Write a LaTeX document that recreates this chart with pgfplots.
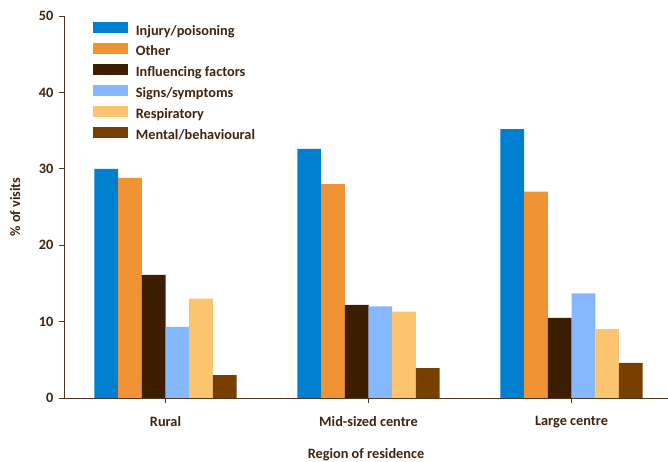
\documentclass[border=0pt]{standalone}
\usepackage{fontspec}
\setmainfont{Carlito}[BoldFont={Carlito Bold}]
\usepackage{pgfplots}
\pgfplotsset{compat=1.18}
\definecolor{cA}{HTML}{007FD1}
\definecolor{cB}{HTML}{EF9233}
\definecolor{cC}{HTML}{3E1E00}
\definecolor{cD}{HTML}{85B8FF}
\definecolor{cE}{HTML}{FDC46F}
\definecolor{cF}{HTML}{773F00}
\definecolor{txt}{HTML}{3F2510}
\definecolor{axc}{HTML}{4B3621}
\begin{document}
\begin{tikzpicture}
\path[use as bounding box] (-64pt,-64pt) rectangle (604pt,398pt);
\begin{axis}[
  scale only axis,
  width=604pt, height=382pt,
  ybar=0pt, bar width=23.7pt,
  ymin=0, ymax=50, ytick={0,10,...,50},
  xmin=-0.5, xmax=2.475,
  xtick={0,1,2},
  xticklabels={Rural,Mid-sized centre,Large centre},
  axis x line*=bottom, axis y line*=left,
  axis line style={axc, line width=0.9pt, -},
  tick style={axc, line width=0.9pt},
  tick align=outside,
  major tick length=5pt,
  /pgf/number format/assume math mode=true,
  tick label style={font=\fontsize{14.3}{16}\selectfont\bfseries, text=txt},
  xticklabel style={yshift=-9.5pt},
  yticklabel style={xshift=-2pt},
  xlabel={Region of residence},
  ylabel={\% of visits},
  label style={font=\fontsize{14.3}{16}\selectfont\bfseries, text=txt},
  xlabel style={at={(axis description cs:0.5,0)}, anchor=center, yshift=-56.5pt},
  ylabel style={at={(axis description cs:-0.081,0.5)}, anchor=center},
  legend cell align=left,
  legend style={draw=none, fill=none, at={(0.0425,0.99)}, anchor=north west,
    font=\fontsize{14.3}{16}\selectfont\bfseries, text=txt,
    nodes={inner sep=0pt, text height=10pt, text depth=3pt},
    row sep=4.9pt,
    /tikz/every odd column/.append style={column sep=8pt}},
  legend image code/.code={\fill[#1] (0pt,-1.5pt) rectangle (35pt,9.5pt);},
  every axis plot/.append style={draw=none},
]
\addplot[fill=cA] coordinates {(0,30.0) (1,32.6) (2,35.2)};
\addplot[fill=cB] coordinates {(0,28.8) (1,28.0) (2,27.0)};
\addplot[fill=cC] coordinates {(0,16.1) (1,12.2) (2,10.5)};
\addplot[fill=cD] coordinates {(0,9.3) (1,12.0) (2,13.7)};
\addplot[fill=cE] coordinates {(0,13.0) (1,11.3) (2,9.0)};
\addplot[fill=cF] coordinates {(0,3.0) (1,3.9) (2,4.6)};
\legend{Injury/poisoning,Other,Influencing factors,Signs/symptoms,Respiratory,Mental/behavioural}
\end{axis}
\end{tikzpicture}
\end{document}
